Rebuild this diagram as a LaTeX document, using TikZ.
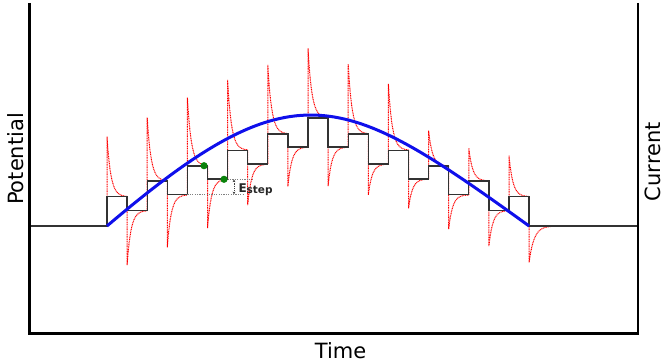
\documentclass[tikz,border=0pt]{standalone}
\usepackage{fontspec}
\setmainfont{DejaVu Sans}
\usetikzlibrary{arrows.meta}
\definecolor{sweepblue}{RGB}{15,15,235}
\definecolor{dotgreen}{RGB}{10,130,10}
\definecolor{stairgray}{RGB}{50,50,50}
\begin{document}
\begin{tikzpicture}[x=1pt,y=-1pt,
  axisline/.style={line width=3.2pt},
  stair/.style={draw=stairgray, line width=1.3pt},
  curr/.style={red, line width=1pt, dash pattern=on 1pt off 0.7pt},
  sweep/.style={draw=sweepblue, line width=3pt},
  gdot/.style={circle, fill=dotgreen, inner sep=0pt, minimum size=7.2pt},
  guide/.style={gray, line width=0.7pt, dash pattern=on 1.2pt off 1.2pt},
  lbl/.style={font=\fontsize{21}{24}\selectfont, inner sep=0pt}]
\useasboundingbox (0,0) rectangle (666,363);
% current transients
\foreach \xa/\P/\L/\T in {107/226/196.7/136.7, 127.1/196.7/210.5/265,
  147.2/210.5/181/117.7, 167.3/181/194.8/247.3, 187.4/194.8/166/97.7,
  207.5/166/179/228.3, 227.6/179/150.3/80, 247.7/150.3/164/205,
  267.8/164/134/65, 287.9/134/147/186.5, 308.0/147/118/48.3,
  328.1/118/147/186, 348.2/147/134/64, 368.3/134/164/195,
  388.4/164/150.3/84, 408.5/150.3/179/208.3, 428.6/179/166/130.7,
  448.7/166/194.8/229, 468.8/194.8/181/148.3, 488.9/181/210.5/246,
  509.0/210.5/196.7/155.7}
  \draw[curr] (\xa,\P) -- (\xa,\T) -- plot[domain=0:20.1,samples=40] ({\xa+\x},{\L+(\T-\L)*exp(-\x/3.9)});
\draw[curr] (529.1,196.7) -- (529.1,262.3) -- plot[domain=0:30,samples=50] ({529.1+\x},{226+(262.3-226)*exp(-\x/5)});
% staircase
\draw[stair] (30,226) -- (107,226) |- (127.1,196.7) |- (147.2,210.5) |- (167.3,181)
  |- (187.4,194.8) |- (207.5,166) |- (227.6,179) |- (247.7,150.3) |- (267.8,164)
  |- (287.9,134) |- (308.0,147) |- (328.1,118) |- (348.2,147) |- (368.3,134)
  |- (388.4,164) |- (408.5,150.3) |- (428.6,179) |- (448.7,166) |- (468.8,194.8)
  |- (488.9,181) |- (509.0,210.5) |- (529.1,196.7) |- (638,226);
% E step annotation
\coordinate (ea) at (234,179.6);
\coordinate (eb) at (234,194.2);
\draw[guide] (187.4,194.8) -- (243,194.8);
\draw[guide] (227.6,179) -- (253.3,179);
\draw[black!75, line width=0.7pt, dash pattern=on 1.2pt off 1pt,
  {Stealth[length=2.6pt,width=2.8pt]}-{Stealth[length=2.6pt,width=2.8pt]}] (ea) -- (eb);
\node[anchor=base west, inner sep=0pt, text=black!85] (estep) at (238.3,192.3)
  {\fontsize{12}{13}\selectfont\bfseries E\raisebox{-1pt}{\fontsize{10.5}{12}\selectfont step}};
% sweep
\draw[sweep] (107,226) .. controls (295,66) and (341,90.6) .. (529.1,226);
% green dots
\node[gdot] (g1) at (204,165.7) {};
\node[gdot] (g2) at (224,179.3) {};
% axes
\draw[axisline] (29.5,3) -- (29.5,333.3) -- (638,333.3);
\draw[line width=2.6pt] (638,3) -- (638,334.6);
% labels
\node[lbl, rotate=90, anchor=base] (pot) at (23.3,159) {Potential};
\node[lbl, rotate=90, anchor=base] (curlbl) at (660,161.7) {Current};
\node[lbl, anchor=base] (time) at (340.5,358.3) {Time};
\end{tikzpicture}
\end{document}
